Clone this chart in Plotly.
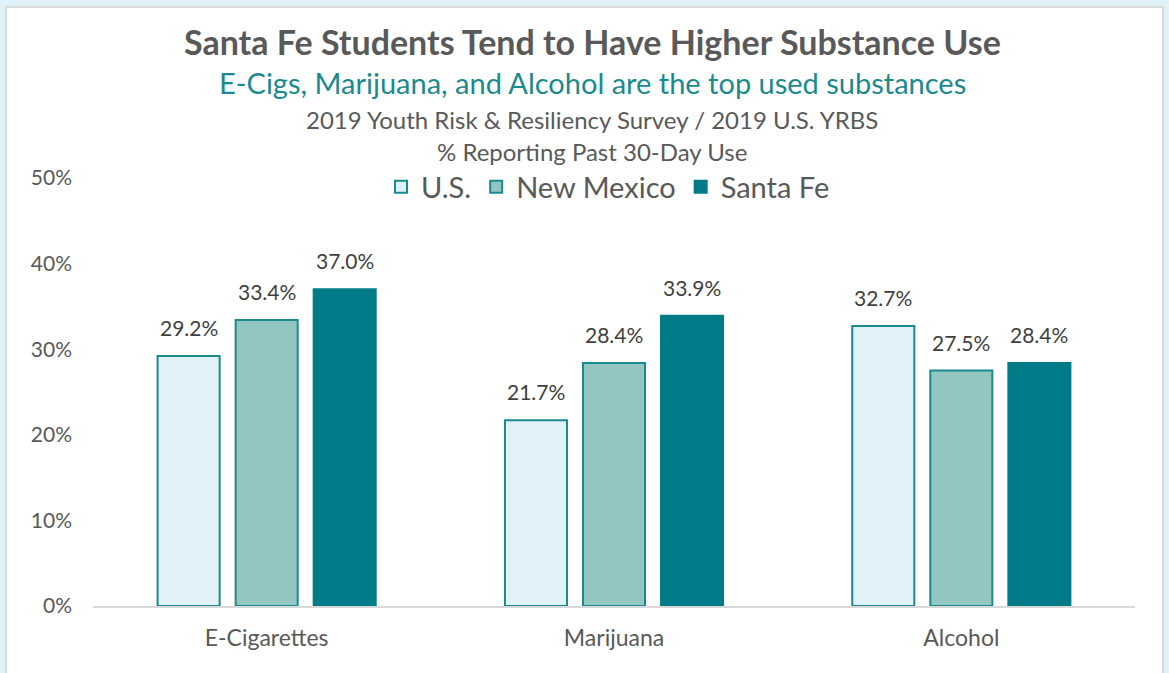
import plotly.graph_objects as go

categories = ["E-Cigarettes", "Marijuana", "Alcohol"]
series_names = ["U.S.", "New Mexico", "Santa Fe"]
us_values = [29.2, 21.7, 32.7]
nm_values = [33.4, 28.4, 27.5]
sf_values = [37.0, 33.9, 28.4]
y_ticks = [0, 10, 20, 30, 40, 50]

FONT = "Lato"
fills = ["#E1F1F8", "#93C6C0", "#007B87"]
edges = ["#1A8A8F", "#1A8A8F", "#007B87"]

L, R, T, B = 93, 34, 178, 67
W, H = 1169, 673
pw, ph = W - L - R, H - T - B
BARGAP, GROUPGAP = 0.326, 0.205

fig = go.Figure()
all_vals = [us_values, nm_values, sf_values]
for name, vals, fc, ec in zip(series_names, all_vals, fills, edges):
    fig.add_trace(go.Bar(
        x=categories, y=vals, name=name,
        marker=dict(color=fc, line=dict(color=ec, width=2)),
        cliponaxis=False,
    ))

# data labels above bars
slot = (pw / len(categories)) * (1 - BARGAP) / len(series_names)
for i, vals in enumerate(all_vals):
    for cat, v in zip(categories, vals):
        fig.add_annotation(x=cat, y=v, text=f"{v:.1f}%", showarrow=False,
                           xanchor="center", yanchor="bottom",
                           xshift=(i - 1) * slot, yshift=14,
                           font=dict(family=FONT, size=21, color="#404040"))

def px_x(x):
    return (x - L) / pw

def px_y(y):
    return (H - B - y) / ph

fig.add_shape(type="rect", xref="paper", yref="paper",
              x0=px_x(6), x1=px_x(1163), y0=px_y(690), y1=px_y(7),
              fillcolor="white", line=dict(color="#D9D9D9", width=2), layer="below")

def ann(text, y, size, color, bold=False):
    fig.add_annotation(text=f"<b>{text}</b>" if bold else text, xref="paper", yref="paper",
                       x=px_x(592), y=px_y(y), showarrow=False, xanchor="center", yanchor="middle",
                       font=dict(family=FONT, size=size, color=color))

ann("Santa Fe Students Tend to Have Higher Substance Use", 42, 34, "#595959", bold=True)
ann("E-Cigs, Marijuana, and Alcohol are the top used substances", 83, 29, "#1A8A8F")
ann("2019 Youth Risk &amp; Resiliency Survey / 2019 U.S. YRBS", 119, 24, "#595959")
ann("% Reporting Past 30-Day Use", 152, 24, "#595959")

fig.update_layout(
    width=W, height=H,
    margin=dict(l=L, r=R, t=T, b=B),
    paper_bgcolor="#E1F1F8", plot_bgcolor="rgba(0,0,0,0)",
    barmode="group", bargap=BARGAP, bargroupgap=GROUPGAP,
    showlegend=True,
    legend=dict(orientation="h", xanchor="center", yanchor="middle",
                x=px_x(608), y=px_y(187), font=dict(family=FONT, size=29, color="#595959"),
                bgcolor="rgba(0,0,0,0)", itemwidth=30),
    xaxis=dict(showline=True, linecolor="#D9D9D9", linewidth=2, ticks="",
               ticklabelstandoff=10,
               tickfont=dict(family=FONT, size=23, color="#595959"), showgrid=False),
    yaxis=dict(range=[0, 50], tickvals=y_ticks, ticktext=[f"{v}%" for v in y_ticks],
               showgrid=False, zeroline=False, showline=False, ticks="", ticklabelstandoff=20,
               tickfont=dict(family=FONT, size=21, color="#595959")),
    font=dict(family=FONT),
)

fig.write_html("out.html", post_script="document.body.style.margin='0';",
               config={"displayModeBar": False})
